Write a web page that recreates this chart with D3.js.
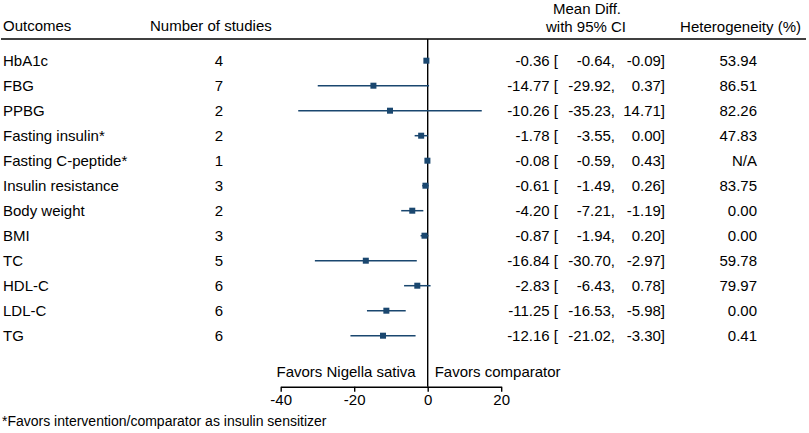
<!DOCTYPE html>
<html>
<head>
<meta charset="utf-8">
<script src="https://cdn.jsdelivr.net/npm/d3@7"></script>
<style>
  html, body { margin: 0; padding: 0; background: #fff; }
  svg { display: block; font-family: Arial, "Liberation Sans", sans-serif; }
</style>
</head>
<body>
<svg></svg>
<script>
// forest plot data
var outcomes = ['HbA1c', 'FBG', 'PPBG', 'Fasting insulin*', 'Fasting C-peptide*', 'Insulin resistance',
    'Body weight', 'BMI', 'TC', 'HDL-C', 'LDL-C', 'TG'];
var nStudies = [4, 7, 2, 2, 1, 3, 2, 3, 5, 6, 6, 6];
var meanDiff = [-0.36, -14.77, -10.26, -1.78, -0.08, -0.61, -4.20, -0.87, -16.84, -2.83, -11.25, -12.16];
var ciLow = [-0.64, -29.92, -35.23, -3.55, -0.59, -1.49, -7.21, -1.94, -30.70, -6.43, -16.53, -21.02];
var ciHigh = [-0.09, 0.37, 14.71, 0.00, 0.43, 0.26, -1.19, 0.20, -2.97, 0.78, -5.98, -3.30];
var heterogeneity = ['53.94', '86.51', '82.26', '47.83', 'N/A', '83.75', '0.00', '0.00', '59.78', '79.97', '0.00', '0.41'];
var xTicks = [-40, -20, 0, 20];

var data = outcomes.map(function(d, i) {
    return { name: d, n: nStudies[i], md: meanDiff[i], lo: ciLow[i], hi: ciHigh[i], het: heterogeneity[i] };
});

drawForest(data);

function drawForest(data) {
    var svgWidth = 809, svgHeight = 433;
    var navy = '#1a476f';
    var fs = 15;

    var svg = d3.select('svg')
        .attr('width', svgWidth)
        .attr('height', svgHeight);

    var x = d3.scaleLinear()
        .domain([-40, 20])
        .range([280.7, 501.2]);

    var y = d3.scaleBand()
        .domain(outcomes)
        .range([48.2, 348.2]);
    var yc = function(d) { return y(d) + y.bandwidth() / 2; };

    var axisY = 386.7;

    // header
    var head = svg.append('g').attr('font-size', fs).attr('fill', '#000');
    head.append('text').attr('x', 3).attr('y', 26).attr('dy', '0.35em').text('Outcomes');
    head.append('text').attr('x', 150).attr('y', 26).attr('dy', '0.35em').text('Number of studies');
    head.append('text').attr('x', 587).attr('y', 8.5).attr('dy', '0.35em')
        .attr('text-anchor', 'middle').text('Mean Diff.');
    head.append('text').attr('x', 586).attr('y', 26.7).attr('dy', '0.35em')
        .attr('text-anchor', 'middle').text('with 95% CI');
    head.append('text').attr('x', 801).attr('y', 26.7).attr('dy', '0.35em')
        .attr('text-anchor', 'end').text('Heterogeneity (%)');

    svg.append('line')
        .attr('x1', 1).attr('x2', 806)
        .attr('y1', 39).attr('y2', 39)
        .attr('stroke', '#000').attr('stroke-width', 1.4);

    // null line
    svg.append('line')
        .attr('x1', x(0)).attr('x2', x(0))
        .attr('y1', 39).attr('y2', axisY)
        .attr('stroke', '#000').attr('stroke-width', 1.4);

    // rows
    var rows = svg.append('g').attr('font-size', fs)
        .selectAll('g')
        .data(data)
        .enter().append('g')
        .attr('transform', function(d) { return 'translate(0,' + yc(d.name) + ')'; });

    rows.append('text').attr('x', 3).attr('dy', '0.35em').text(function(d) { return d.name; });
    rows.append('text').attr('x', 219).attr('dy', '0.35em').attr('text-anchor', 'middle')
        .text(function(d) { return d.n; });
    rows.append('text').attr('x', 558).attr('dy', '0.35em').attr('text-anchor', 'end')
        .text(function(d) { return d.md.toFixed(2) + ' ['; });
    rows.append('text').attr('x', 615).attr('dy', '0.35em').attr('text-anchor', 'end')
        .text(function(d) { return d.lo.toFixed(2) + ','; });
    rows.append('text').attr('x', 665).attr('dy', '0.35em').attr('text-anchor', 'end')
        .text(function(d) { return d.hi.toFixed(2) + ']'; });
    rows.append('text').attr('x', 757).attr('dy', '0.35em').attr('text-anchor', 'end')
        .text(function(d) { return d.het; });

    rows.append('line')
        .attr('x1', function(d) { return x(d.lo); })
        .attr('x2', function(d) { return x(d.hi); })
        .attr('stroke', navy).attr('stroke-width', 1.5);

    rows.append('rect')
        .attr('x', function(d) { return x(d.md) - 3; })
        .attr('y', -3)
        .attr('width', 6).attr('height', 6)
        .attr('fill', navy);

    // x axis, plain hyphen for negatives as in the original
    var gx = svg.append('g')
        .attr('transform', 'translate(0,' + axisY + ')')
        .call(d3.axisBottom(x).tickValues(xTicks).tickSize(5).tickSizeOuter(0)
            .tickFormat(function(d) { return String(d); }));
    gx.select('.domain').attr('stroke', '#000').attr('stroke-width', 1.4);
    gx.selectAll('.tick line').attr('stroke', '#000').attr('stroke-width', 1.4);
    gx.selectAll('.tick text')
        .attr('font-size', fs)
        .attr('font-family', 'Arial, "Liberation Sans", sans-serif')
        .attr('fill', '#000')
        .attr('y', 8)
        .attr('dy', '0.71em');

    svg.append('text').attr('font-size', fs)
        .attr('x', x(0) - 12).attr('y', 372).attr('dy', '0.35em')
        .attr('text-anchor', 'end').text('Favors Nigella sativa');
    svg.append('text').attr('font-size', fs)
        .attr('x', x(0) + 7).attr('y', 372).attr('dy', '0.35em')
        .text('Favors comparator');

    // footnote
    svg.append('text').attr('font-size', 14)
        .attr('x', 2).attr('y', 421.5).attr('dy', '0.35em')
        .text('*Favors intervention/comparator as insulin sensitizer');
}
</script>
</body>
</html>
